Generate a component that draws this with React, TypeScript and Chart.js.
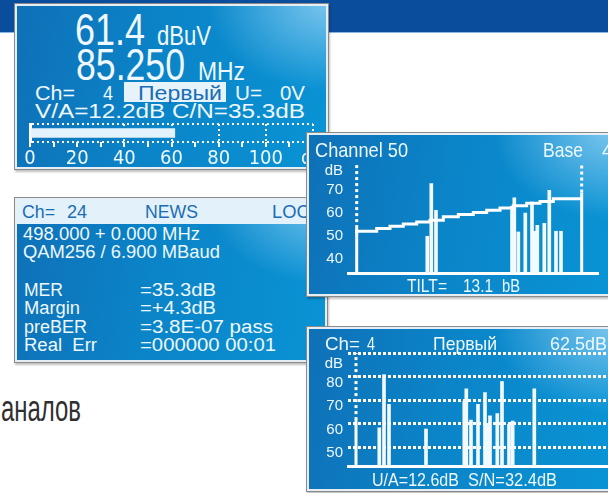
import React, { useEffect, useRef } from "react";
import { Chart, registerables } from "chart.js";
Chart.register(...registerables);

// ---------- Panel 1: level meter ----------
const levelValue = [61.4];
const levelMax = 120;
const levelLabelSteps = [0, 20, 40, 60, 80, 100];
const levelGridValues = [40, 60, 80, 100, 120];

// ---------- Panel 2: tilt chart (Channel 50) ----------
const tiltBarPos = [79.3, 83.3, 88, 164, 166.3, 170.3, 177.3, 184, 186.7, 189.3, 196.3, 201.3, 208, 213];
const tiltBarLevel = [49.8, 72.9, 61.2, 63, 66.7, 51.7, 60, 64.8, 52, 54.6, 55.5, 70, 52, 52];
const tiltStepPos = [8.7, 28.7, 42, 55.3, 68.7, 82, 95.3, 110.3, 125.3, 138.7, 152, 165.3, 178.7, 192, 205.3, 218.7, 233.7];
const tiltStepLevel = [51.0, 52.0, 53.2, 54.2, 55.2, 56.1, 56.8, 58.4, 59.3, 60.2, 61.2, 62.2, 63.2, 64.3, 65.1, 66.3, 66.3];
const tiltMarkerPos = [8.7, 233.7];
const tiltMarkerLevel = [53.4, 69];
const tiltYTicks = [40, 50, 60, 70];
const tiltYMin = 33.7;
const tiltYMax = 81.5;
const tiltXMax = 250;

// ---------- Panel 4: spectrum (Ch= 4) ----------
const specBarPos = [31.3, 36, 41, 78, 116.3, 118.3, 123, 130, 137, 139.7, 142, 149.3, 154, 161, 164.7, 186.3];
const specBarLevel = [58.2, 80.8, 68.2, 57.7, 69.5, 74.8, 61.5, 68.2, 73.2, 60.1, 63.3, 64.3, 77.9, 59.7, 61.1, 74.8];
const specMarkerPos = [8];
const specMarkerLevel = [61.5];
const specYTicks = [50, 60, 70, 80, 90];
const specYMin = 42;
const specYMax = 90;
const specXMax = 260;

const FONT = "'Liberation Sans', Arial, Helvetica, sans-serif";
const NARROW = "'Liberation Sans Narrow', 'Arial Narrow', 'DejaVu Sans Condensed', 'Liberation Sans', sans-serif";
const TXT = "#eef8fe";
const BLUE_TXT = "#1a6db5";
const WHITE = "#ffffff";

function markerSets(pos: number[], lvl: number[], yMin: number, yMax: number) {
  const out: any[] = [];
  pos.forEach((p, i) => {
    out.push({ type: "line", data: [{ x: p, y: yMin }, { x: p, y: lvl[i] }], borderColor: WHITE, borderWidth: 3, pointRadius: 0, clip: false });
    out.push({ type: "line", data: [{ x: p, y: lvl[i] }, { x: p, y: yMax }], borderColor: WHITE, borderWidth: 3, borderDash: [3, 3], pointRadius: 0, clip: false });
  });
  return out;
}

function levelConfig(): any {
  return {
    type: "bar",
    data: { labels: [""], datasets: [{ data: levelValue, backgroundColor: "#e4f2fb", barThickness: 9 }] },
    options: {
      indexAxis: "y",
      animation: false,
      responsive: false,
      events: [],
      layout: { padding: { left: 10, right: 12, top: 6, bottom: 0 } },
      plugins: { legend: { display: false }, tooltip: { enabled: false } },
      scales: {
        x: {
          type: "linear",
          min: 0,
          max: levelMax,
          offset: false,
          ticks: {
            stepSize: 10,
            autoSkip: false,
            maxRotation: 0,
            padding: 0,
            color: TXT,
            font: { size: 20, family: NARROW },
            callback: (v: number) => (v === levelMax ? "dB" : levelLabelSteps.includes(v) ? String(v) : ""),
          },
          grid: {
            color: (c: any) => (c.tick && levelGridValues.includes(c.tick.value) ? WHITE : "rgba(0,0,0,0)"),
            lineWidth: 2,
            tickColor: WHITE,
            tickLength: 5,
            tickWidth: 2,
            drawTicks: true,
          },
          border: { display: false, dash: [2, 3] },
          afterFit: (s: any) => { s.height = 30; },
        },
        y: {
          type: "category",
          ticks: { display: false },
          grid: { offset: true, color: WHITE, lineWidth: 2, drawTicks: false },
          border: { display: true, color: WHITE, width: 3, dash: [2, 3] },
          afterFit: (s: any) => { s.width = 0; },
        },
      },
    },
  };
}

function tiltConfig(): any {
  return {
    type: "bar",
    data: {
      datasets: [
        {
          type: "line",
          data: tiltStepPos.map((x, i) => ({ x, y: tiltStepLevel[i] })),
          stepped: "after",
          borderColor: WHITE,
          borderWidth: 3,
          pointRadius: 0,
        },
        {
          type: "bar",
          data: tiltBarPos.map((x, i) => ({ x, y: tiltBarLevel[i] })),
          backgroundColor: "#f2f9ff",
          barThickness: 3,
        },
        ...markerSets(tiltMarkerPos, tiltMarkerLevel, tiltYMin, tiltYMax),
      ],
    },
    options: {
      animation: false,
      responsive: false,
      events: [],
      layout: { padding: { left: 8, right: 8, top: 16, bottom: 16 } },
      plugins: { legend: { display: false }, tooltip: { enabled: false } },
      scales: {
        x: {
          type: "linear",
          min: 0,
          max: tiltXMax,
          offset: false,
          ticks: { display: false },
          grid: { display: false, drawTicks: false, offset: false },
          border: { display: true, color: WHITE, width: 3 },
          afterFit: (s: any) => { s.height = 0; },
        },
        y: {
          type: "linear",
          min: tiltYMin,
          max: tiltYMax,
          afterBuildTicks: (s: any) => { s.ticks = [...tiltYTicks, 78.5].map((v) => ({ value: v })); },
          ticks: {
            color: TXT,
            padding: 5,
            font: { size: 15, family: FONT },
            callback: (v: number) => (v === 78.5 ? "dB" : String(v)),
          },
          grid: { display: false, drawTicks: false },
          border: { display: false },
          afterFit: (s: any) => { s.width = 30; },
        },
      },
    },
  };
}

function specConfig(): any {
  return {
    type: "bar",
    data: {
      datasets: [
        {
          type: "bar",
          data: specBarPos.map((x, i) => ({ x, y: specBarLevel[i] })),
          backgroundColor: "#f2f9ff",
          barThickness: 3,
        },
        ...markerSets(specMarkerPos, specMarkerLevel, specYMin, specYMax),
      ],
    },
    options: {
      animation: false,
      responsive: false,
      events: [],
      layout: { padding: { left: 8, right: 0, top: 16, bottom: 16 } },
      plugins: { legend: { display: false }, tooltip: { enabled: false } },
      scales: {
        x: {
          type: "linear",
          min: 0,
          max: specXMax,
          offset: false,
          ticks: { display: false },
          grid: { display: false, drawTicks: false, offset: false },
          border: { display: true, color: WHITE, width: 3 },
          afterFit: (s: any) => { s.height = 0; },
        },
        y: {
          type: "linear",
          min: specYMin,
          max: specYMax,
          afterBuildTicks: (s: any) => { s.ticks = [...specYTicks, 87.9].map((v) => ({ value: v })); },
          ticks: {
            color: TXT,
            padding: 5,
            labelOffset: 6,
            font: { size: 15, family: FONT },
            callback: (v: number) => (v === 87.9 ? "dB" : v === 90 ? "" : String(v)),
          },
          grid: {
            color: (c: any) => (c.tick && c.tick.value === 87.9 ? "rgba(0,0,0,0)" : WHITE),
            lineWidth: 3,
            drawTicks: false,
          },
          border: { display: false, dash: [3, 2] },
          afterFit: (s: any) => { s.width = 30; },
        },
      },
    },
  };
}

function ChartBox({ left, top, width, height, build }: any) {
  const ref = useRef<HTMLCanvasElement>(null);
  useEffect(() => {
    const chart = new Chart(ref.current as HTMLCanvasElement, build());
    return () => chart.destroy();
  }, []);
  return <canvas ref={ref} width={width} height={height} style={{ position: "absolute", left, top, width, height }} />;
}

function T({ x, y, w, size, text, fill = TXT, family = FONT }: any) {
  return (
    <text x={x} y={y} fontSize={size} fill={fill} fontFamily={family} textLength={w} lengthAdjust="spacingAndGlyphs" style={{ whiteSpace: "pre" }}>
      {text}
    </text>
  );
}

const PANEL_BG =
  "radial-gradient(ellipse 55% 75% at 100% 0%, rgba(150,210,244,0.8), rgba(150,210,244,0) 70%), linear-gradient(100deg, #0f70b7 0%, #0b84c8 45%, #0994d5 100%)";

function Panel({ left, top, width, height, children }: any) {
  return (
    <div
      style={{
        position: "absolute",
        left,
        top,
        width,
        height,
        overflow: "hidden",
        background: PANEL_BG,
        boxShadow: "inset 0 0 0 1px #8a8a8a, inset 0 0 0 3px #e4eef4, 1px 2px 2px rgba(0,0,0,0.25)",
      }}
    >
      <svg width={608} height={493} style={{ position: "absolute", left: -left, top: -top }}>
        {children}
      </svg>
    </div>
  );
}

function Layer({ left, top, width, height, children }: any) {
  return (
    <div style={{ position: "absolute", left, top, width, height, overflow: "hidden", pointerEvents: "none" }}>{children}</div>
  );
}

export default function App() {
  return (
    <div style={{ position: "absolute", left: 0, top: 0, width: 608, height: 493, overflow: "hidden", background: "#ffffff" }}>
      <div style={{ position: "absolute", left: 0, top: 0, width: 608, height: 32, background: "#0b4d9d", borderBottom: "1px solid #86b6e4" }} />
      <svg width={608} height={493} style={{ position: "absolute", left: 0, top: 0 }}>
        <T x={1} y={421} w={80} size={36} fill="#2f2f2f" text="аналов" />
      </svg>

      {/* Panel 1 */}
      <Panel left={14} top={3} width={315} height={167}>
        <T x={75} y={45} w={70} size={44} text="61.4" />
        <T x={157} y={45} w={54} size={28} text="dBuV" />
        <T x={76} y={80} w={109} size={44} text="85.250" />
        <T x={198} y={80} w={47} size={25} text="MHz" />
        <T x={35} y={100} w={40} size={20} text="Ch=" />
        <T x={103} y={100} w={10} size={20} text="4" />
        <rect x={124} y={82} width={102} height={20} fill="#e6f3fb" />
        <T x={138} y={100} w={84} size={20} fill={BLUE_TXT} text="Первый" />
        <T x={235} y={100} w={27} size={20} text="U=" />
        <T x={280} y={100} w={25} size={20} text="0V" />
        <T x={35} y={118} w={270} size={20} text="V/A=12.2dB C/N=35.3dB" />
      </Panel>
      <Layer left={14} top={3} width={315} height={167}>
        <ChartBox left={6} top={115} width={305} height={54} build={levelConfig} />
      </Layer>

      {/* Panel 3 */}
      <Panel left={14} top={197} width={314} height={166}>
        <rect x={16} y={199} width={310} height={25} fill="#e2f1fa" />
        <T x={22} y={218} w={33} size={19} fill={BLUE_TXT} text="Ch=" />
        <T x={67} y={218} w={20} size={19} fill={BLUE_TXT} text="24" />
        <T x={145} y={218} w={53} size={19} fill={BLUE_TXT} text="NEWS" />
        <T x={272} y={218} w={50} size={19} fill={BLUE_TXT} text="LOCK" />
        <T x={23} y={240} w={177} size={18} text="498.000 + 0.000 MHz" />
        <T x={23} y={258} w={197} size={18} text="QAM256 / 6.900 MBaud" />
        <T x={24} y={296} w={39} size={18} text="MER" />
        <T x={140} y={296} w={76} size={18} text="=35.3dB" />
        <T x={24} y={314} w={56} size={18} text="Margin" />
        <T x={140} y={314} w={76} size={18} text="=+4.3dB" />
        <T x={24} y={332.5} w={63} size={18} text="preBER" />
        <T x={140} y={332.5} w={133} size={18} text="=3.8E-07 pass" />
        <T x={24} y={351} w={73} size={18} text="Real  Err" />
        <T x={140} y={351} w={136} size={18} text="=000000 00:01" />
      </Panel>

      {/* Panel 2 */}
      <Panel left={306} top={132} width={306} height={165}>
        <T x={315} y={157} w={93} size={21} text="Channel 50" />
        <T x={543} y={157} w={40} size={21} text="Base" />
        <T x={602} y={157} w={11} size={21} text="4" />
        <T x={407} y={291.5} w={40} size={17.5} text="TILT=" />
        <T x={463} y={291.5} w={30} size={17.5} text="13.1" />
        <T x={502} y={291.5} w={18} size={17.5} text="bB" />
      </Panel>
      <Layer left={306} top={132} width={306} height={165}>
        <ChartBox left={4} top={15.7} width={296} height={141} build={tiltConfig} />
      </Layer>

      {/* Panel 4 */}
      <Panel left={306} top={326} width={306} height={166}>
        <T x={325} y={349.5} w={35} size={18.5} text="Ch=" />
        <T x={367} y={349.5} w={8} size={18.5} text="4" />
        <T x={433} y={349.5} w={64} size={18.5} text="Первый" />
        <T x={550} y={349.5} w={57} size={18.5} text="62.5dB" />
        <T x={372} y={485.5} w={87} size={17.5} text="U/A=12.6dB" />
        <T x={468} y={485.5} w={89} size={17.5} text="S/N=32.4dB" />
      </Panel>
      <Layer left={306} top={326} width={306} height={166}>
        <ChartBox left={4} top={11.3} width={298} height={145} build={specConfig} />
      </Layer>
    </div>
  );
}
